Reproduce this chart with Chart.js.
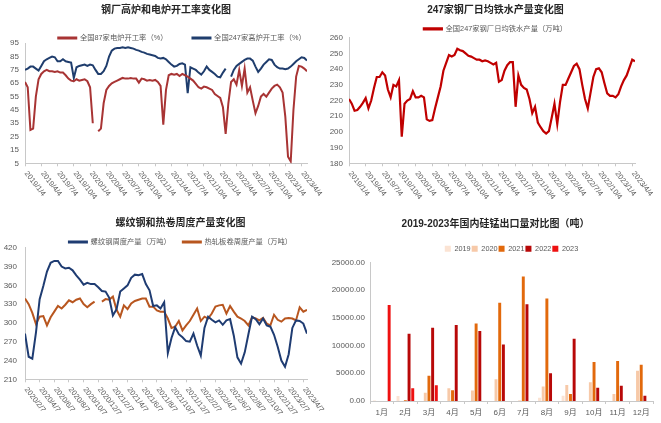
<!DOCTYPE html>
<html>
<head>
<meta charset="utf-8">
<script src="https://cdn.jsdelivr.net/npm/chart.js@4.4.1/dist/chart.umd.min.js"></script>
<style>
  body { margin: 0; background: #fff; }
  #wrap { position: relative; width: 661px; height: 423px; overflow: hidden; }
  canvas { position: absolute; }
</style>
</head>
<body>
<div id="wrap">
  <canvas id="c1" width="364" height="211" style="left:0;top:0"></canvas>
  <canvas id="c2" width="331" height="211" style="left:330px;top:0"></canvas>
  <canvas id="c3" width="361" height="212" style="left:0;top:211px"></canvas>
  <canvas id="c4" width="331" height="212" style="left:330px;top:211px"></canvas>
</div>
<script>
// quarter ticks for the two upper charts, 6 readings per quarter
const quarterLabels = ['2019/1/4', '2019/4/4', '2019/7/4', '2019/10/4', '2020/1/4', '2020/4/4', '2020/7/4', '2020/10/4',
  '2021/1/4', '2021/4/4', '2021/7/4', '2021/10/4', '2022/1/4', '2022/4/4', '2022/7/4', '2022/10/4', '2023/1/4', '2023/4/4'];

// 全国247家高炉开工率 (%)
const bfRate = [75, 76, 77.5, 77.5, 76, 74.5, 78, 81.5, 83, 84, 85, 84.5, 81.5, 81.5, 83, 81.5, 81, 80.5, 69, 77,
  78, 78.5, 79, 78, 79, 78.5, 75, 72, 72, 74, 78, 85, 89.5, 91, 91.5, 91.5, 92, 91.5, 92, 91.5,
  91, 90, 89.5, 88.5, 88, 87, 86.5, 86, 85.5, 84, 83.5, 84, 83, 81, 79, 77.5, 78, 79.5, 80, 79,
  57.5, 77, 76, 75, 73, 71.5, 74, 77.5, 75, 73.5, 72, 70, 69.5, 73, 76, null, 70, 75, 78, 79.5,
  81, 82.5, 83.5, 83.5, 82, 77.5, 73.5, 76, 79, 81, 83, 82.5, 79, 77, 76, 76, 75.5, 76, 77.5, 79.5,
  81.5, 83, 84.5, 84, 82];

// 全国87家电炉开工率 (%)
const eafRate = [66, 62, 30, 31, 55, 68, 72, 74, 75, 74, 74, 73.5, 74, 73, 73, 71, 68.5, 67, 66.5, 68,
  67, 67.5, 68, 66.5, 62, 35, null, 29, 31, 50, 60, 63, 65, 66, 67, 68, 69, 68.5, 68.5, 69,
  68.5, 68.5, 65.5, 68.5, 68, 67, 67.5, 67, 67.5, 66, 63, 34, 60, 71, 72, 71.5, 72, 70.5, 72, 71,
  70, 68.5, 67, 64.5, 62, 61, 62.5, 62, 61, 60, 57, 55.5, 54, 47, 27, 50, 66, 68, 64, 75,
  63, 76, 58, 62, 52, 42.5, 48, 55, 57, 55, 58, 61, 63, 64, 62, 58, 40, 10, 6.5, 45,
  70, 78, 77.5, 76, 74];

// 全国247家钢厂日均铁水产量 (万吨)
const hotMetal = [221, 218, 213.5, 214, 216, 218.5, 221.5, 215, 220, 228, 235, 235, 238, 236, 227, 222, 230, 229, 233, 197,
  218, 220, 221, 226, 222, 222, 223, 222, 208, 207, 207.5, 215, 222, 229, 239, 244, 249, 248, 249, 253,
  252, 251.5, 250, 248.5, 248, 247, 246, 246, 245, 245.5, 245, 244, 243, 244, 232, 233, 239, 242.5, 244.5, 244.5,
  216, 236, 230, 228, 227, 221, 212, 216, 206, 203, 200.5, 199, 200.5, 209, 218, 205, 219, 230, 230, 234,
  238, 242, 243.5, 240, 230, 221, 215, 225, 235, 240, 240.5, 238, 231, 224.5, 223, 223, 222, 224, 229, 233,
  236, 241, 246, 245];

// two-month ticks for the lower left chart, 4 readings per tick
const bimonthLabels = ['2020/2/7', '2020/4/7', '2020/6/7', '2020/8/7', '2020/10/7', '2020/12/7', '2021/2/7', '2021/4/7',
  '2021/6/7', '2021/8/7', '2021/10/7', '2021/12/7', '2022/2/7', '2022/4/7', '2022/6/7', '2022/8/7', '2022/10/7',
  '2022/12/7', '2023/2/7', '2023/4/7'];

// 螺纹钢周度产量 (万吨)
const rebarOut = [283, 246, 243, 285, 338, 359, 382, 396, 399, 399, 390, 387, 388, 384, 376, 369, 361, 364, 362, 362,
  357, 351, 350, 340, 312, 322, 350, 355, 360, 372, 377, 376, 378, 362, 352, 327, 328, 323, 333, 252,
  276, 293, 282, 277, 271, 270, 283, 264, 248, 292, 310, 305, 301, 304, 297, 304, 306, 280, 245, 235,
  253, 282, 310, 306, 298, 307, 296, 294, 281, 262, 240, 230, 250, 292, 304, 303, 299, 283];

// 热轧板卷周度产量 (万吨)
const hrcOut = [339, 330, 316, 298, 310, 311, 296, 309, 318, 327, 323, 329, 336, 333, 337, 339, 330, 325, 330, 334,
  null, 334, 338, 337, 342, 321, 310, 328, 322, 331, 335, 337, 339, 339, 326, 326, 320, 318, 318, 307,
  292, 294, 303, 288, 296, 303, 313, 323, 303, 310, 307, 315, 326, 328, 329, 315, 327, 318, 310, 307,
  303, 296, 309, 307, 304, 308, 299, 296, 313, 305, 302, 307, 308, 307, 304, 325, 318, 321];

// 硅锰出口量 (吨)
const months = ['1月', '2月', '3月', '4月', '5月', '6月', '7月', '8月', '9月', '10月', '11月', '12月'];
const exp2019 = [100, 900, 0, 0, 0, 0, 0, 600, 960, 0, 0, 0];
const exp2020 = [0, 0, 1500, 2300, 1880, 3930, 100, 2600, 2900, 3390, 1270, 5450];
const exp2021 = [0, 150, 4540, 1950, 13980, 17700, 22450, 18460, 1270, 7050, 7200, 6550];
const exp2022 = [0, 12100, 13200, 13700, 12600, 10170, 17430, 5020, 11200, 2400, 2750, 950];
const exp2023 = [17300, 2300, 2850, null, null, null, null, null, null, null, null, null];

const axisGray = '#C8C8C8';
const labelGray = '#595959';
Chart.defaults.font.family = '"Liberation Sans", "Noto Sans CJK SC", sans-serif';

// empty axis on the right, only takes room
function spacer(w) {
  return {
    position: 'right',
    grid: { display: false },
    border: { display: false },
    ticks: { display: false },
    afterFit(s) { s.width = w; }
  };
}

// date labels slanted down to the right, like the original
function slantLabels(labels) {
  return {
    id: 'slantLabels',
    afterDraw(chart) {
      const sx = chart.scales.x;
      const ctx = chart.ctx;
      ctx.save();
      ctx.font = '7.5px "Liberation Sans", sans-serif';
      ctx.fillStyle = labelGray;
      ctx.textBaseline = 'middle';
      labels.forEach((lab, k) => {
        ctx.save();
        ctx.translate(sx.getPixelForValue(k) + 1, sx.top + 9);
        ctx.rotate(52 * Math.PI / 180);
        ctx.fillText(lab, 0, 0);
        ctx.restore();
      });
      ctx.restore();
    }
  };
}

function lineChart(id, o) {
  const n = Math.max(...o.series.map(s => s.values.length));
  return new Chart(document.getElementById(id), {
    type: 'line',
    data: {
      datasets: o.series.map(s => ({
        label: s.label,
        data: s.values.map((v, i) => ({ x: i / o.perTick, y: v })),
        borderColor: s.color,
        backgroundColor: s.color,
        borderWidth: s.width || 2,
        pointRadius: 0,
        tension: 0,
        fill: false
      }))
    },
    options: {
      responsive: false,
      animation: false,
      plugins: {
        title: {
          display: true,
          text: o.title,
          fullSize: o.titleFull,
          color: '#262626',
          font: { size: 10, weight: 'bold' },
          padding: o.titlePad
        },
        legend: {
          maxHeight: o.legendH,
          labels: { boxWidth: 18, boxHeight: 1, padding: o.legendGap, color: labelGray, font: { size: 7.3 } }
        },
        tooltip: { enabled: false }
      },
      scales: {
        x: {
          type: 'linear',
          min: 0,
          max: (n - 1) / o.perTick,
          afterBuildTicks(s) { s.ticks = o.ticks.map((_, k) => ({ value: k })); },
          ticks: { display: false },
          grid: { drawOnChartArea: false, tickLength: 3, color: axisGray },
          border: { color: axisGray },
          afterFit(s) { s.height = o.bottom; }
        },
        y: {
          min: o.yMin,
          max: o.yMax,
          ticks: { stepSize: o.yStep, color: labelGray, font: { size: 8 }, padding: o.yPad },
          grid: { display: false, drawTicks: false },
          border: { color: axisGray },
          afterFit(s) { s.width = o.left; }
        },
        pad: spacer(o.right)
      }
    },
    plugins: [slantLabels(o.ticks)]
  });
}

lineChart('c1', {
  title: '钢厂高炉和电炉开工率变化图',
  titleFull: false,
  titlePad: { top: 4, bottom: -6.75 },
  legendGap: 25,
  legendH: 34,
  series: [
    { label: '全国87家电炉开工率（%）', values: eafRate, color: '#A83434' },
    { label: '全国247家高炉开工率（%）', values: bfRate, color: '#1F3D6D' }
  ],
  perTick: 6,
  ticks: quarterLabels,
  yMin: 5, yMax: 95, yStep: 10, yPad: 6,
  left: 25, right: 57, bottom: 47.7
});

lineChart('c2', {
  title: '247家钢厂日均铁水产量变化图',
  titleFull: true,
  titlePad: { top: 4, bottom: 3.25 },
  legendGap: 6,
  legendH: 18.5,
  series: [
    { label: '全国247家钢厂日均铁水产量（万吨）', values: hotMetal, color: '#C00000', width: 2.2 }
  ],
  perTick: 6,
  ticks: quarterLabels,
  yMin: 180, yMax: 260, yStep: 10, yPad: 6,
  left: 19, right: 26, bottom: 47.7
});

lineChart('c3', {
  title: '螺纹钢和热卷周度产量变化图',
  titleFull: true,
  titlePad: { top: 6, bottom: -2.75 },
  legendGap: 12,
  legendH: 21.5,
  series: [
    { label: '螺纹钢周度产量（万吨）', values: rebarOut, color: '#1F3C72' },
    { label: '热轧板卷周度产量（万吨）', values: hrcOut, color: '#B8561F' }
  ],
  perTick: 4,
  ticks: bimonthLabels,
  yMin: 210, yMax: 420, yStep: 30, yPad: 8,
  left: 25, right: 54, bottom: 43.7
});

new Chart(document.getElementById('c4'), {
  type: 'bar',
  data: {
    labels: months,
    datasets: [
      { label: '2019', data: exp2019, backgroundColor: '#FBE3D3' },
      { label: '2020', data: exp2020, backgroundColor: '#F7C9A8' },
      { label: '2021', data: exp2021, backgroundColor: '#E2690C' },
      { label: '2022', data: exp2022, backgroundColor: '#B80808' },
      { label: '2023', data: exp2023, backgroundColor: '#EE1111' }
    ]
  },
  options: {
    responsive: false,
    animation: false,
    datasets: { bar: { categoryPercentage: 0.78, barPercentage: 0.8 } },
    plugins: {
      title: {
        display: true,
        text: '2019-2023年国内硅锰出口量对比图（吨）',
        color: '#262626',
        font: { size: 10, weight: 'bold' },
        padding: { top: 7, bottom: 14 }
      },
      legend: {
        fullSize: false,
        labels: { boxWidth: 6, boxHeight: 6, padding: 1, color: labelGray, font: { size: 7.3 } }
      },
      tooltip: { enabled: false }
    },
    scales: {
      x: {
        grid: { drawOnChartArea: false, tickLength: 3, color: axisGray },
        border: { color: axisGray },
        ticks: { color: labelGray, font: { size: 8 }, padding: 3.5 },
        afterFit(s) { s.height = 22; }
      },
      y: {
        min: 0,
        max: 25000,
        ticks: { stepSize: 5000, color: labelGray, font: { size: 8 }, padding: 5, callback: v => v.toFixed(2) },
        grid: { display: false, drawTicks: false },
        border: { color: axisGray },
        afterFit(s) { s.width = 40; }
      },
      pad: spacer(8)
    }
  }
});
</script>
</body>
</html>
